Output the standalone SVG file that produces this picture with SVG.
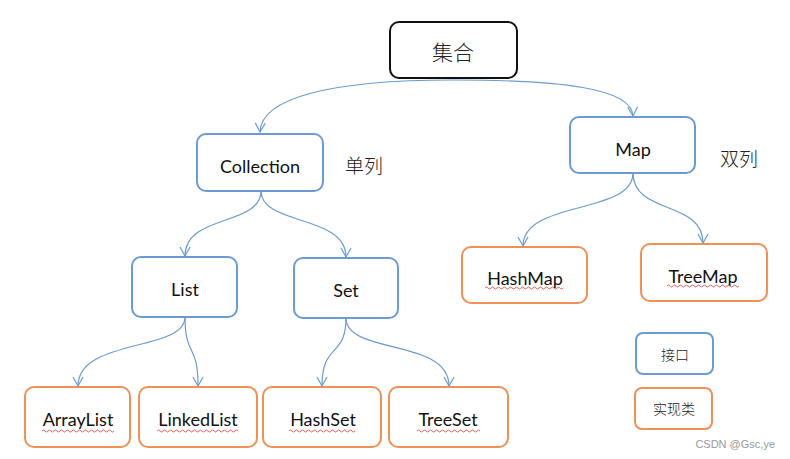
<svg xmlns="http://www.w3.org/2000/svg" width="790" height="459" viewBox="0 0 790 459">
<defs>
<marker id="arr" markerWidth="14" markerHeight="14" refX="10" refY="6" orient="auto" markerUnits="userSpaceOnUse">
<path d="M1,1 L10,6 L1,11" fill="none" stroke="#6B9BD2" stroke-width="1.2"/>
</marker>
<style>
.iface{fill:#fff;stroke:#6B9BD2;stroke-width:2}
.impl{fill:#fff;stroke:#EE9155;stroke-width:2}
.root{fill:#fff;stroke:#111;stroke-width:2}
.t{font-family:Lato,"Open Sans","Noto Sans CJK SC",sans-serif;font-size:18px;fill:#111;text-anchor:middle;dominant-baseline:central}
.cn{font-family:"Noto Sans CJK SC","Noto Sans",sans-serif;fill:#222;font-weight:300}
.conn{fill:none;stroke:#6B9BD2;stroke-width:1.2;marker-end:url(#arr)}
.wave{fill:none;stroke:#D23B3B;stroke-width:0.8}
</style>
</defs>
<rect width="790" height="459" fill="#fff"/>
<g id="connectors">
<path class="conn" d="M453,80 C330,80 261,98 260,132"/>
<path class="conn" d="M453,80 C560,80 632,88 633,116"/>
<path class="conn" d="M261,191 C261,226 185,214 185,256"/>
<path class="conn" d="M261,191 C261,226 346,214 346,257"/>
<path class="conn" d="M633,173 C633,215 523,200 523,246"/>
<path class="conn" d="M633,173 C633,215 703,200 703,243"/>
<path class="conn" d="M185,317 C185,352 78,338 78,386"/>
<path class="conn" d="M185,317 C185,358 198,342 198,386"/>
<path class="conn" d="M346,318 C346,358 322,342 322,386"/>
<path class="conn" d="M346,318 C346,355 449,338 449,386"/>
</g>
<g id="root"><rect class="root" x="390" y="22" width="127" height="56" rx="9"/><text class="cn" x="453" y="60" font-size="21" text-anchor="middle">集合</text></g>
<g id="collection"><rect class="iface" x="197" y="134" width="126" height="57" rx="9"/><text class="t" x="260" y="166">Collection</text></g>
<text class="cn" x="345" y="173" font-size="19">单列</text>
<g id="map"><rect class="iface" x="570" y="117" width="125" height="56" rx="9"/><text class="t" x="633" y="149">Map</text></g>
<text class="cn" x="720" y="166" font-size="19">双列</text>
<g id="list"><rect class="iface" x="132" y="257" width="105" height="60" rx="9"/><text class="t" x="185" y="289">List</text></g>
<g id="set"><rect class="iface" x="294" y="258" width="104" height="60" rx="9"/><text class="t" x="346" y="290">Set</text></g>
<g id="hashmap"><rect class="impl" x="462" y="247" width="125" height="56" rx="9"/><text class="t" x="525" y="278">HashMap</text><path class="wave" d="M485,288 q1.5,-2 3,0 t3,0 t3,0 t3,0 t3,0 t3,0 t3,0 t3,0 t3,0 t3,0 t3,0 t3,0 t3,0 t3,0 t3,0 t3,0 t3,0 t3,0 t3,0 t3,0 t3,0 t3,0 t3,0 t3,0 t3,0 t3,0"/></g>
<g id="treemap"><rect class="impl" x="641" y="244" width="126" height="57" rx="9"/><text class="t" x="703" y="276">TreeMap</text><path class="wave" d="M667,286 q1.5,-2 3,0 t3,0 t3,0 t3,0 t3,0 t3,0 t3,0 t3,0 t3,0 t3,0 t3,0 t3,0 t3,0 t3,0 t3,0 t3,0 t3,0 t3,0 t3,0 t3,0 t3,0 t3,0 t3,0 t3,0"/></g>
<g id="arraylist"><rect class="impl" x="25" y="387" width="105" height="60" rx="9"/><text class="t" x="78" y="419">ArrayList</text><path class="wave" d="M42,431 q1.5,-2 3,0 t3,0 t3,0 t3,0 t3,0 t3,0 t3,0 t3,0 t3,0 t3,0 t3,0 t3,0 t3,0 t3,0 t3,0 t3,0 t3,0 t3,0 t3,0 t3,0 t3,0 t3,0 t3,0 t3,0"/></g>
<g id="linkedlist"><rect class="impl" x="139" y="387" width="118" height="60" rx="9"/><text class="t" x="198" y="419">LinkedList</text><path class="wave" d="M157,431 q1.5,-2 3,0 t3,0 t3,0 t3,0 t3,0 t3,0 t3,0 t3,0 t3,0 t3,0 t3,0 t3,0 t3,0 t3,0 t3,0 t3,0 t3,0 t3,0 t3,0 t3,0 t3,0 t3,0 t3,0 t3,0 t3,0 t3,0 t3,0"/></g>
<g id="hashset"><rect class="impl" x="263" y="387" width="118" height="60" rx="9"/><text class="t" x="323" y="419">HashSet</text><path class="wave" d="M289,431 q1.5,-2 3,0 t3,0 t3,0 t3,0 t3,0 t3,0 t3,0 t3,0 t3,0 t3,0 t3,0 t3,0 t3,0 t3,0 t3,0 t3,0 t3,0 t3,0 t3,0 t3,0 t3,0 t3,0"/></g>
<g id="treeset"><rect class="impl" x="389" y="387" width="119" height="60" rx="9"/><text class="t" x="448" y="419">TreeSet</text><path class="wave" d="M417,431 q1.5,-2 3,0 t3,0 t3,0 t3,0 t3,0 t3,0 t3,0 t3,0 t3,0 t3,0 t3,0 t3,0 t3,0 t3,0 t3,0 t3,0 t3,0 t3,0 t3,0 t3,0 t3,0"/></g>
<g id="legend-interface"><rect class="iface" x="636" y="333" width="77" height="41" rx="7"/><text class="cn" x="675" y="360" font-size="14" text-anchor="middle">接口</text></g>
<g id="legend-impl"><rect class="impl" x="635" y="388" width="77" height="41" rx="7"/><text class="cn" x="674" y="414" font-size="14" text-anchor="middle">实现类</text></g>
<text x="775" y="448" font-family="Liberation Sans,Arial,sans-serif" font-size="11" fill="#999" text-anchor="end">CSDN @Gsc,ye</text>
</svg>
